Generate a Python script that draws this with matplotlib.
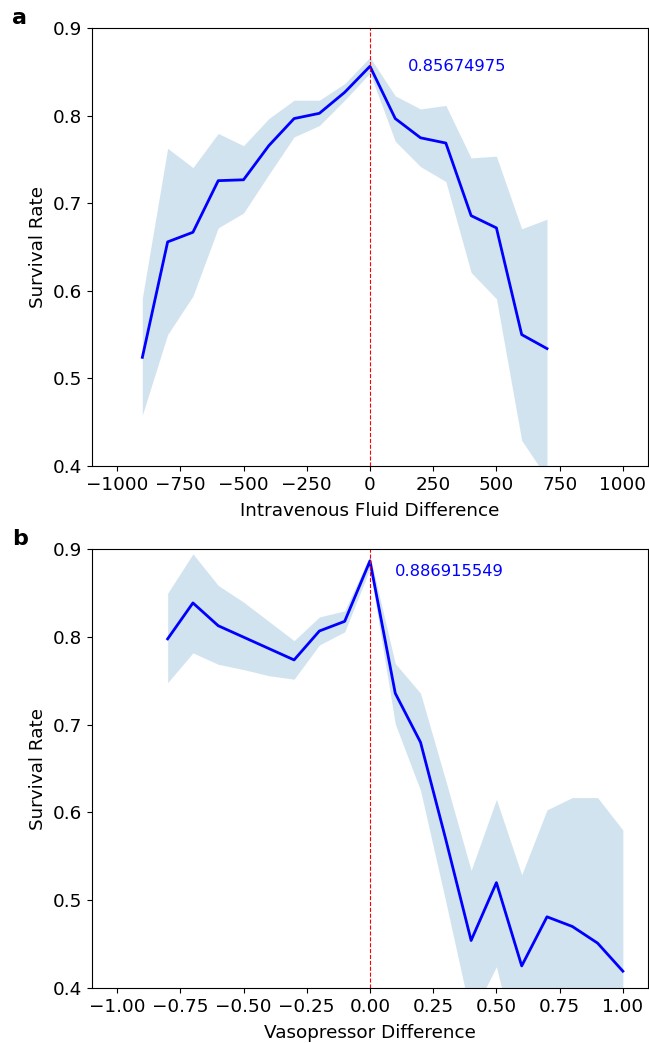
import matplotlib
matplotlib.use("Agg")
import matplotlib.pyplot as plt

# Panel a: intravenous fluid difference
iv_diff = [-900, -800, -700, -600, -500, -400, -300, -200, -100, 0,
           100, 200, 300, 400, 500, 600, 700]
iv_mean = [0.524, 0.656, 0.667, 0.726, 0.727, 0.766, 0.797, 0.803, 0.827, 0.85674975,
           0.797, 0.775, 0.769, 0.686, 0.672, 0.550, 0.534]
iv_upper = [0.592, 0.763, 0.741, 0.780, 0.766, 0.797, 0.818, 0.818, 0.837, 0.867,
            0.823, 0.808, 0.812, 0.752, 0.754, 0.671, 0.682]
iv_lower = [0.458, 0.550, 0.594, 0.672, 0.689, 0.733, 0.776, 0.789, 0.818, 0.849,
            0.771, 0.742, 0.725, 0.621, 0.591, 0.429, 0.386]

# Panel b: vasopressor difference
vp_diff = [-0.8, -0.7, -0.6, -0.5, -0.4, -0.3, -0.2, -0.1, 0.0,
           0.1, 0.2, 0.3, 0.4, 0.5, 0.6, 0.7, 0.8, 0.9, 1.0]
vp_mean = [0.798, 0.839, 0.813, 0.800, 0.787, 0.774, 0.807, 0.818, 0.886915549,
           0.736, 0.680, 0.569, 0.454, 0.520, 0.425, 0.481, 0.470, 0.451, 0.419]
vp_upper = [0.850, 0.895, 0.859, 0.840, 0.818, 0.796, 0.823, 0.830, 0.893,
            0.770, 0.736, 0.636, 0.534, 0.615, 0.529, 0.603, 0.617, 0.617, 0.580]
vp_lower = [0.748, 0.782, 0.769, 0.763, 0.756, 0.752, 0.791, 0.806, 0.878,
            0.701, 0.625, 0.498, 0.367, 0.424, 0.305, 0.360, 0.320, 0.280, 0.260]

FS = 13.2
fig = plt.figure(figsize=(6.49, 10.43), dpi=100)
ax_a = fig.add_axes([0.1414, 0.5534, 0.8573, 0.4193])
ax_b = fig.add_axes([0.1414, 0.0529, 0.8573, 0.4203])


def draw_panel(ax, x, mean, lower, upper, xlabel, xlim, xticks, text_dx, text_dy, fmt):
    ax.fill_between(x, lower, upper, color="#1f77b4", alpha=0.2, linewidth=0)
    ax.plot(x, mean, color="blue", linewidth=2)
    ax.axvline(0, color="red", linestyle="--", linewidth=0.8)
    peak = max(mean)
    ax.text(x[mean.index(peak)] + text_dx, peak + text_dy, str(peak),
            color="blue", fontsize=11.8, ha="left", va="center")
    ax.set_xlim(*xlim)
    ax.set_ylim(0.4, 0.9)
    ax.set_xticks(xticks)
    ax.set_xticklabels([fmt(t) for t in xticks])
    ax.set_yticks([0.4, 0.5, 0.6, 0.7, 0.8, 0.9])
    ax.tick_params(labelsize=FS)
    ax.set_xlabel(xlabel, fontsize=FS, labelpad=6)
    ax.set_ylabel("Survival Rate", fontsize=FS)


def minus(s):
    return s.replace("-", "\u2212")


draw_panel(ax_a, iv_diff, iv_mean, iv_lower, iv_upper, "Intravenous Fluid Difference",
           (-1100, 1100), [-1000, -750, -500, -250, 0, 250, 500, 750, 1000],
           150, 0.0, lambda t: minus(f"{t:d}"))
draw_panel(ax_b, vp_diff, vp_mean, vp_lower, vp_upper, "Vasopressor Difference",
           (-1.1, 1.1), [-1.0, -0.75, -0.5, -0.25, 0.0, 0.25, 0.5, 0.75, 1.0],
           0.1, -0.012, lambda t: minus(f"{t:.2f}"))

fig.text(0.018, 0.977, "a", fontsize=16, fontweight="bold", ha="left", va="baseline")
fig.text(0.018, 0.477, "b", fontsize=16, fontweight="bold", ha="left", va="baseline")

fig.savefig("out.png", dpi=100)
